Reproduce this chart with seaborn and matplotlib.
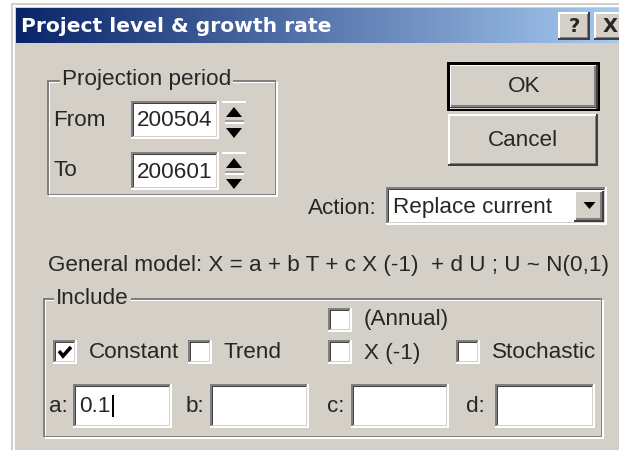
import matplotlib
matplotlib.use("Agg")
import matplotlib.pyplot as plt
from matplotlib import font_manager
from matplotlib.patches import Rectangle, Polygon
from matplotlib.lines import Line2D
import numpy as np
import seaborn as sns

# Dialog contents
title = "Project level & growth rate"
period_title = "Projection period"
period_labels = ["From", "To"]
period_values = ["200504", "200601"]
button_labels = ["OK", "Cancel"]
action_label = "Action:"
action_value = "Replace current"
model_text = "General model: X = a + b T + c X (-1)  + d U ; U ~ N(0,1)"
include_title = "Include"
annual_label = "(Annual)"
annual_checked = False
check_labels = ["Constant", "Trend", "X (-1)", "Stochastic"]
check_states = [True, False, False, False]
coef_labels = ["a:", "b:", "c:", "d:"]
coef_values = ["0.1", "", "", ""]

sns.set_theme(style="white")
available = {f.name for f in font_manager.fontManager.ttflist}
if "Liberation Sans Narrow" in available:
    UI_FONT, FS = "Liberation Sans Narrow", 19.8
else:
    UI_FONT, FS = "Liberation Sans", 16.2
plt.rcParams["font.family"] = [UI_FONT, "DejaVu Sans"]

FACE = "#d4d0c8"
SHADOW = "#808080"
DARK = "#404040"
LIGHT = "#ffffff"
T = 1.6

fig = plt.figure(figsize=(6.19, 4.5), dpi=100)
ax = fig.add_axes([0, 0, 1, 1])
ax.axis("off")


def box(x0, y0, x1, y1, color):
    ax.add_patch(Rectangle((x0, y0), x1 - x0, y1 - y0, facecolor=color,
                           edgecolor="none", lw=0))


def frame(x0, y0, x1, y1, tl, br, t=T):
    box(x0, y0, x1, y0 + t, tl)
    box(x0, y0, x0 + t, y1, tl)
    box(x0, y1 - t, x1, y1, br)
    box(x1 - t, y0, x1, y1, br)


def sunken(x0, y0, x1, y1, fill=LIGHT):
    box(x0, y0, x1, y1, fill)
    frame(x0, y0, x1, y1, SHADOW, LIGHT)
    frame(x0 + T, y0 + T, x1 - T, y1 - T, DARK, FACE)


def raised(x0, y0, x1, y1):
    box(x0, y0, x1, y1, FACE)
    frame(x0, y0, x1, y1, LIGHT, DARK)
    frame(x0 + T, y0 + T, x1 - T, y1 - T, FACE, SHADOW)


def group(x0, y0, x1, y1, label, lx):
    frame(x0 + T, y0 + T, x1, y1, LIGHT, LIGHT)
    frame(x0, y0, x1 - T, y1 - T, SHADOW, SHADOW)
    ax.text(lx, y0, label, fontsize=FS, va="center", ha="left",
            bbox=dict(facecolor=FACE, edgecolor="none", pad=1.5))


def tri(cx, y_base, y_tip, half, color="black"):
    ax.add_patch(Polygon([(cx - half, y_base), (cx + half, y_base), (cx, y_tip)],
                         closed=True, facecolor=color, edgecolor="none"))


# window background
box(0, 0, 619, 450, "white")
box(11, 3, 640, 460, FACE)
box(13, 5, 15, 460, LIGHT)
box(13, 5, 640, 7, LIGHT)

# title bar with gradient
cmap = sns.blend_palette(["#0a246a", "#a6caf0"], as_cmap=True)
ax.imshow(np.linspace(0, 1, 256)[None, :], cmap=cmap, aspect="auto",
          extent=(16, 619, 43, 8), zorder=1)
ax.text(21, 26, title, color="white", fontweight="bold", fontsize=14.6,
        family="DejaVu Sans", va="center", ha="left", zorder=3)
raised(558, 12, 590, 40)
ax.text(574, 26.5, "?", fontweight="bold", fontsize=14, family="DejaVu Sans",
        va="center", ha="center", zorder=3)
raised(594, 12, 626, 40)
ax.text(610, 26.5, "X", fontweight="bold", fontsize=14, family="DejaVu Sans",
        va="center", ha="center", zorder=3)

# projection period group
group(47, 80, 278, 197, period_title, 62)
period_y = [101, 152]
for lab, val, y0 in zip(period_labels, period_values, period_y):
    ax.text(53, y0 + 19, lab, fontsize=FS, va="center", ha="left")
    sunken(131, y0, 219, y0 + 38)
    ax.text(137, y0 + 20, val, fontsize=FS, va="center", ha="left")
    # spin buttons
    box(222, y0, 246, y0 + 1.5, LIGHT)
    tri(234, y0 + 16, y0 + 6, 8)
    box(225, y0 + 19, 244, y0 + 21, "#a0a0a0")
    box(225, y0 + 21, 244, y0 + 22.5, LIGHT)
    tri(234, y0 + 27, y0 + 37, 8)

# OK / Cancel
box(447, 62, 600, 111, "black")
raised(449.5, 64.5, 597.5, 108.5)
ax.text(524, 87, button_labels[0], fontsize=FS, va="center", ha="center")
raised(448, 114, 598, 166)
ax.text(523, 140, button_labels[1], fontsize=FS, va="center", ha="center")

# action combo
ax.text(308, 208, action_label, fontsize=FS, va="center", ha="left")
sunken(386, 187, 607, 225)
ax.text(393, 207, action_value, fontsize=FS, va="center", ha="left")
raised(574, 190.5, 603.5, 221.5)
tri(589.5, 202, 209, 6)

# model text
ax.text(48, 266, model_text, fontsize=FS, va="center", ha="left")

# include group
group(43, 298, 604, 439, include_title, 56)
CB = 24


def checkbox(x, y, checked):
    sunken(x, y, x + CB, y + CB)
    if checked:
        ax.add_line(Line2D([x + 6, x + 10, x + 18], [y + 11, y + 16, y + 7],
                           color="black", lw=2.6, solid_capstyle="butt",
                           solid_joinstyle="miter"))


checkbox(328, 308, annual_checked)
ax.text(364, 320, annual_label, fontsize=FS, va="center", ha="left")
check_x = [53, 188, 328, 456]
for lab, state, x in zip(check_labels, check_states, check_x):
    checkbox(x, 340, state)
    ax.text(x + 36, 353, lab, fontsize=FS, va="center", ha="left")

label_x = [49, 186, 327, 466]
box_x = [(73, 172), (210, 309), (351, 449), (495, 595)]
cursor_text = None
for lab, val, lx, (bx0, bx1) in zip(coef_labels, coef_values, label_x, box_x):
    ax.text(lx, 406, lab, fontsize=FS, va="center", ha="left")
    sunken(bx0, 384, bx1, 428)
    if val:
        cursor_text = ax.text(bx0 + 6, 406, val, fontsize=FS, va="center", ha="left")

ax.set_xlim(0, 619)
ax.set_ylim(450, 0)

# text caret after the typed value
fig.canvas.draw()
bb = cursor_text.get_window_extent()
x_end = ax.transData.inverted().transform((bb.x1, bb.y0))[0]
box(x_end + 1.5, 395, x_end + 3.3, 417, "black")

fig.savefig("out.png", dpi=100)
